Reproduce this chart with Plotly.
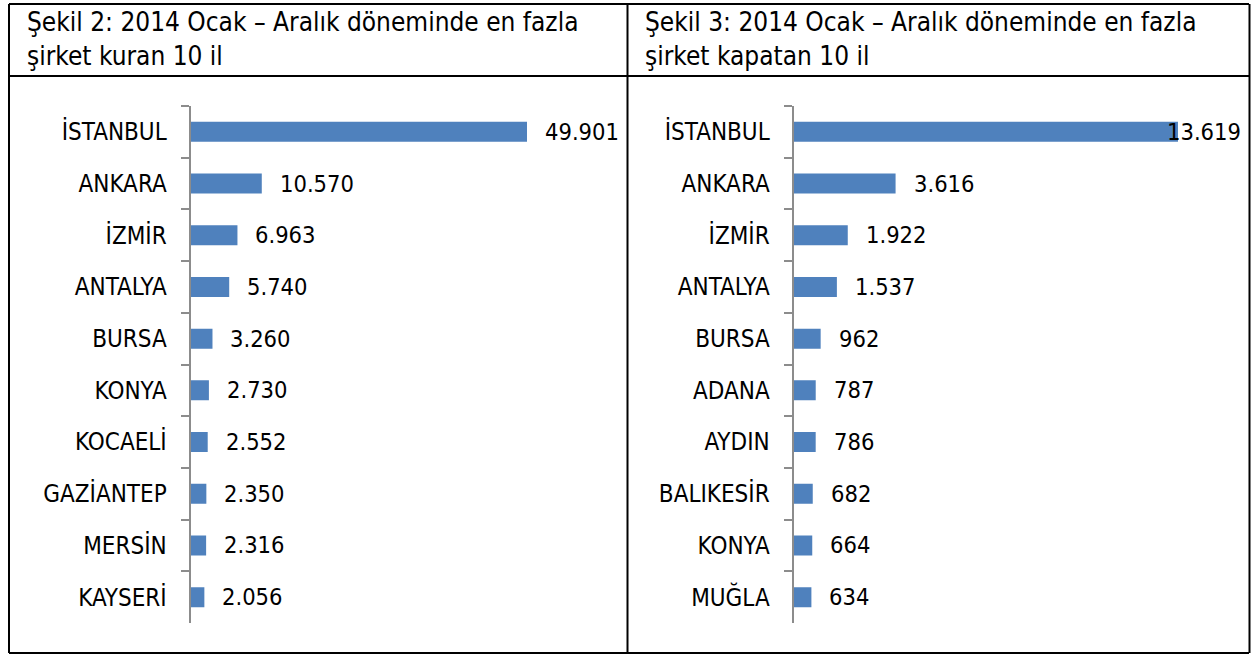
import plotly.graph_objects as go

W, H = 1252, 655

# Data
titles = [
    "Şekil 2: 2014 Ocak – Aralık döneminde en fazla<br>şirket kuran 10 il",
    "Şekil 3: 2014 Ocak – Aralık döneminde en fazla<br>şirket kapatan 10 il",
]
cities_open = ["İSTANBUL", "ANKARA", "İZMİR", "ANTALYA", "BURSA", "KONYA",
               "KOCAELİ", "GAZİANTEP", "MERSİN", "KAYSERİ"]
values_open = [49901, 10570, 6963, 5740, 3260, 2730, 2552, 2350, 2316, 2056]
cities_close = ["İSTANBUL", "ANKARA", "İZMİR", "ANTALYA", "BURSA", "ADANA",
                "AYDIN", "BALIKESİR", "KONYA", "MUĞLA"]
values_close = [13619, 3616, 1922, 1537, 962, 787, 786, 682, 664, 634]

FONT = "DejaVu Sans Condensed, Liberation Sans Narrow, sans-serif"
BAR = "#4F81BD"
AX = "#8C8C8C"

def px(x):
    return x / W

def py(y):
    return 1 - y / H

fig = go.Figure()
fig.add_trace(go.Bar(x=values_open, y=cities_open, orientation="h",
                     marker=dict(color=BAR, line=dict(width=0)),
                     xaxis="x", yaxis="y", hoverinfo="x+y"))
fig.add_trace(go.Bar(x=values_close, y=cities_close, orientation="h",
                     marker=dict(color=BAR, line=dict(width=0)),
                     xaxis="x2", yaxis="y2", hoverinfo="x+y"))

ydom = [py(623), py(106)]
common_y = dict(autorange="reversed", showline=True, linecolor=AX, linewidth=2,
                ticks="outside", tickson="boundaries", ticklen=8, tickcolor=AX,
                tickwidth=2, tickfont=dict(family=FONT, size=24, color="#000"),
                ticklabelstandoff=17, showgrid=False, zeroline=False,
                domain=ydom)
common_x = dict(showline=False, showticklabels=False, ticks="", showgrid=False,
                zeroline=False)

fig.update_layout(
    width=W, height=H,
    margin=dict(l=0, r=0, t=0, b=0),
    paper_bgcolor="white", plot_bgcolor="rgba(0,0,0,0)",
    showlegend=False, bargap=0.613, separators=",.",
    xaxis=dict(common_x, range=[0, 60000], domain=[px(190.5), px(595.1)], anchor="y"),
    yaxis=dict(common_y, anchor="x"),
    xaxis2=dict(common_x, range=[0, 16000], domain=[px(793.5), px(1245.2)], anchor="y2"),
    yaxis2=dict(common_y, anchor="x2"),
)

def fmt(v):
    return f"{v:,}".replace(",", ".")

anns = []
for xa, ya, cities, vals, xmax in [("x", "y", cities_open, values_open, 60000),
                                    ("x2", "y2", cities_close, values_close, 16000)]:
    for c, v in zip(cities, vals):
        shift = 16
        if v / xmax > 0.84:
            shift = -13
        anns.append(dict(x=v, y=c, xref=xa, yref=ya, text=fmt(v), showarrow=False,
                         xanchor="left", yanchor="middle", xshift=shift,
                         font=dict(family=FONT, size=23.5, color="#000")))

for t, x0 in zip(titles, [25, 643]):
    anns.append(dict(x=px(x0), y=py(5), xref="paper", yref="paper", text=t,
                     showarrow=False, xanchor="left", yanchor="top", align="left",
                     font=dict(family=FONT, size=26, color="#000")))
fig.update_layout(annotations=anns)

# Table borders
lines = [
    (9, 4, 1249, 4), (9, 76, 1249, 76), (9, 653, 1249, 653),
    (9, 4, 9, 653), (627.5, 4, 627.5, 653), (1249.5, 4, 1249.5, 653),
]
fig.update_layout(shapes=[dict(type="line", xref="paper", yref="paper",
                               x0=px(a), y0=py(b), x1=px(c), y1=py(d),
                               line=dict(color="#000", width=2))
                          for a, b, c, d in lines])

fig.write_html("out.html")
